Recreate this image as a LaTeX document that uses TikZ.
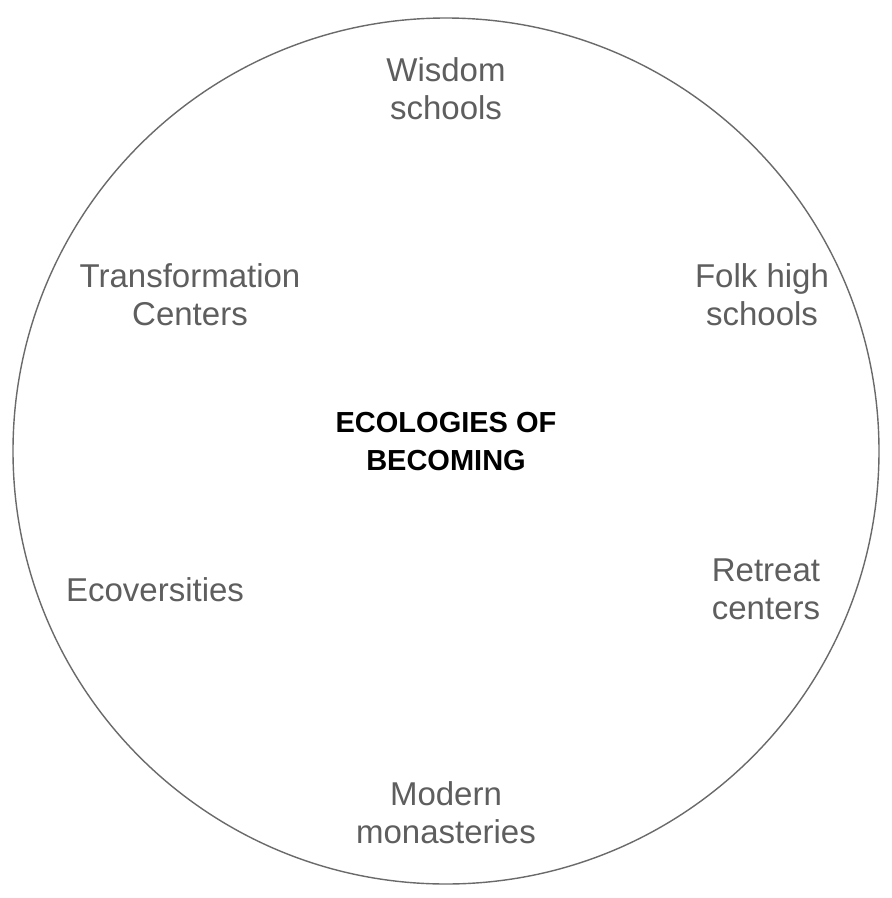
\documentclass[tikz,border=0pt]{standalone}
\usepackage{fontspec}
\setmainfont{Liberation Sans}
\definecolor{labelgray}{HTML}{5E5E5E}
\definecolor{ringgray}{HTML}{6A6A6A}
\tikzset{
  place/.style={text=labelgray, align=center, font=\fontsize{33}{38}\selectfont},
  core/.style={text=black, align=center, font=\fontsize{29}{38}\selectfont\bfseries}
}
\begin{document}
\begin{tikzpicture}[x=1pt,y=-1pt]
  \useasboundingbox (0,0) rectangle (892,898);
  \fill[white] (0,0) rectangle (892,898);
  \draw[ringgray, line width=1.4pt] (446,451) circle (433);
  \node[core] (eco) at (446,442) {ECOLOGIES OF\\BECOMING};
  \node[place] (wisdom) at (446,89) {Wisdom\\schools};
  \node[place] (folk) at (762,295) {Folk high\\schools};
  \node[place] (trans) at (190,295) {Transformation\\Centers};
  \node[place] (ecov) at (155,590) {Ecoversities};
  \node[place] (retreat) at (766,589) {Retreat\\centers};
  \node[place] (monast) at (446,813) {Modern\\monasteries};
\end{tikzpicture}
\end{document}
